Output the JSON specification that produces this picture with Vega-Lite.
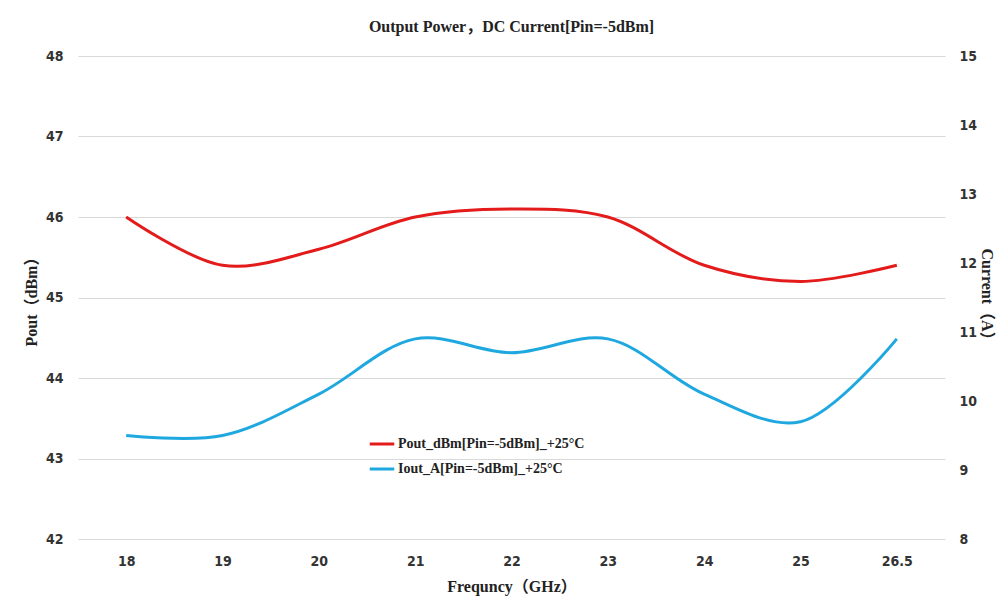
{
  "$schema": "https://vega.github.io/schema/vega-lite/v6.json",
  "autosize": {"type": "none"},
  "padding": {"left": 78, "top": 56, "right": 57, "bottom": 71},
  "width": 867,
  "height": 483,
  "background": "white",
  "title": {
    "text": "Output Power，DC Current[Pin=-5dBm]",
    "font": "Liberation Serif, Noto Sans CJK SC",
    "fontSize": 16,
    "fontWeight": "bold",
    "color": "#222222",
    "anchor": "middle",
    "offset": 14
  },
  "data": {
    "values": [
      {"freq": "18", "Pout": 46.0, "Iout": 9.5},
      {"freq": "19", "Pout": 45.4, "Iout": 9.5},
      {"freq": "20", "Pout": 45.6, "Iout": 10.1},
      {"freq": "21", "Pout": 46.0, "Iout": 10.9},
      {"freq": "22", "Pout": 46.1, "Iout": 10.7},
      {"freq": "23", "Pout": 46.0, "Iout": 10.9},
      {"freq": "24", "Pout": 45.4, "Iout": 10.1},
      {"freq": "25", "Pout": 45.2, "Iout": 9.7},
      {"freq": "26.5", "Pout": 45.4, "Iout": 10.9}
    ]
  },
  "encoding": {
    "x": {
      "field": "freq",
      "type": "ordinal",
      "sort": null,
      "scale": {"type": "point", "padding": 0.5},
      "axis": {
        "title": "Frequncy（GHz）",
        "labelAngle": 0,
        "domain": false,
        "ticks": false,
        "grid": false,
        "labelPadding": 15,
        "labelFont": "DejaVu Sans Condensed",
        "labelFontSize": 14,
        "labelFontWeight": "bold",
        "labelColor": "#333333",
        "titleFont": "Liberation Serif, Noto Sans CJK SC",
        "titleFontSize": 16,
        "titleFontWeight": "bold",
        "titleColor": "#222222",
        "titlePadding": 10
      }
    }
  },
  "layer": [
    {
      "mark": {"type": "line", "interpolate": "catmull-rom", "strokeWidth": 3},
      "encoding": {
        "y": {
          "field": "Pout",
          "type": "quantitative",
          "scale": {"domain": [42, 48], "nice": false, "zero": false},
          "axis": {
            "title": "Pout（dBm）",
            "values": [42, 43, 44, 45, 46, 47, 48],
            "domain": false,
            "ticks": false,
            "grid": true,
            "gridColor": "#d9d9d9",
            "gridWidth": 1,
            "labelPadding": 15,
            "labelFont": "DejaVu Sans Condensed",
            "labelFontSize": 14,
            "labelFontWeight": "bold",
            "labelColor": "#333333",
            "titleFont": "Liberation Serif, Noto Sans CJK SC",
            "titleFontSize": 16,
            "titleFontWeight": "bold",
            "titleColor": "#222222",
            "titlePadding": 6
          }
        },
        "color": {"datum": "Pout_dBm[Pin=-5dBm]_+25°C"}
      }
    },
    {
      "mark": {"type": "line", "interpolate": "catmull-rom", "strokeWidth": 3},
      "encoding": {
        "y": {
          "field": "Iout",
          "type": "quantitative",
          "scale": {"domain": [8, 15], "nice": false, "zero": false},
          "axis": {
            "orient": "right",
            "title": "Current（A）",
            "titleAngle": 90,
            "values": [8, 9, 10, 11, 12, 13, 14, 15],
            "domain": false,
            "ticks": false,
            "grid": false,
            "labelPadding": 14,
            "labelFont": "DejaVu Sans Condensed",
            "labelFontSize": 14,
            "labelFontWeight": "bold",
            "labelColor": "#333333",
            "titleFont": "Liberation Serif, Noto Sans CJK SC",
            "titleFontSize": 16,
            "titleFontWeight": "bold",
            "titleColor": "#222222",
            "titlePadding": 2
          }
        },
        "color": {"datum": "Iout_A[Pin=-5dBm]_+25°C"}
      }
    }
  ],
  "resolve": {"scale": {"y": "independent"}},
  "config": {
    "view": {"stroke": null},
    "range": {"category": ["#e31b1b", "#1fa8df"]},
    "legend": {
      "orient": "none",
      "legendX": 290,
      "legendY": 374,
      "title": null,
      "symbolType": "stroke",
      "symbolSize": 600,
      "symbolStrokeWidth": 3,
      "labelFont": "Liberation Serif",
      "labelFontSize": 14,
      "labelFontWeight": "bold",
      "labelColor": "#222222",
      "labelLimit": 0,
      "labelOffset": 2,
      "rowPadding": 4
    }
  }
}
